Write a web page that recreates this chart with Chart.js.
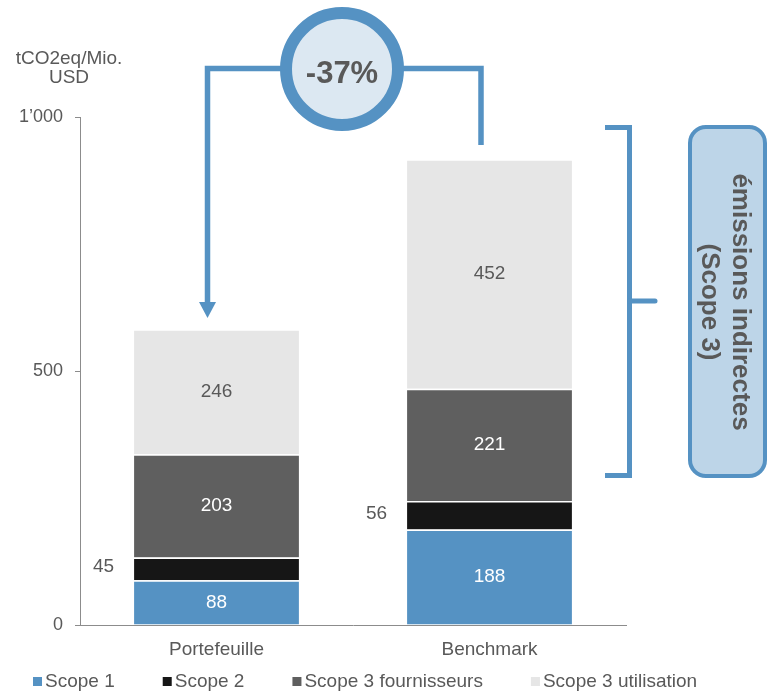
<!DOCTYPE html>
<html>
<head>
<meta charset="utf-8">
<script src="https://cdn.jsdelivr.net/npm/chart.js@4.4.1/dist/chart.umd.min.js"></script>
<style>
  body { margin: 0; background: #fff; }
  #wrap { width: 771px; height: 692px; position: relative; }
</style>
</head>
<body>
<div id="wrap"><canvas id="emissionsChart"></canvas></div>
<script>
const categories = ['Portefeuille', 'Benchmark'];
const seriesNames = ['Scope 1', 'Scope 2', 'Scope 3 fournisseurs', 'Scope 3 utilisation'];
const scope1 = [88, 188];
const scope2 = [45, 56];
const scope3Fournisseurs = [203, 221];
const scope3Utilisation = [246, 452];
const yTicks = [0, 500, 1000];
const yTickLabels = ['0', '500', '1’000'];
const reductionLabel = '-37%';
const yTitle = ['tCO2eq/Mio.', 'USD'];
const scope3Note = ['émissions indirectes', '(Scope 3)'];

const seriesColors = ['#5592c3', '#161616', '#5f5f5f', '#e6e6e6'];
const labelColors = ['#ffffff', '#595959', '#ffffff', '#595959'];
const FONT = "'Liberation Sans', Arial, sans-serif";
const GREY = '#595959';
const BLUE = '#5592c3';

function roundedRect(ctx, x, y, w, h, r) {
  ctx.beginPath();
  ctx.moveTo(x + r, y);
  ctx.lineTo(x + w - r, y);
  ctx.arcTo(x + w, y, x + w, y + r, r);
  ctx.lineTo(x + w, y + h - r);
  ctx.arcTo(x + w, y + h, x + w - r, y + h, r);
  ctx.lineTo(x + r, y + h);
  ctx.arcTo(x, y + h, x, y + h - r, r);
  ctx.lineTo(x, y + r);
  ctx.arcTo(x, y, x + r, y, r);
  ctx.closePath();
}

// valeurs, légende et annotations dessinées après le graphique
const annotations = {
  id: 'annotations',
  afterDraw(chart) {
    const ctx = chart.ctx;
    ctx.save();

    // étiquettes des segments
    ctx.font = '19px ' + FONT;
    ctx.textBaseline = 'middle';
    chart.data.datasets.forEach((ds, i) => {
      const meta = chart.getDatasetMeta(i);
      meta.data.forEach((bar, j) => {
        const yMid = (bar.y + bar.base) / 2;
        ctx.fillStyle = labelColors[i];
        if (i === 1) {
          ctx.textAlign = 'right';
          ctx.fillText(String(ds.data[j]), bar.x - bar.width / 2 - 20, yMid - 2);
        } else {
          ctx.textAlign = 'center';
          ctx.fillText(String(ds.data[j]), bar.x, yMid);
        }
      });
    });

    // titre de l'axe y
    ctx.fillStyle = GREY;
    ctx.font = '19px ' + FONT;
    ctx.textAlign = 'center';
    ctx.fillText(yTitle[0], 69, 59);
    ctx.fillText(yTitle[1], 69, 78);

    // légende
    ctx.font = '19px ' + FONT;
    ctx.textAlign = 'left';
    let lx = 33;
    chart.data.datasets.forEach((ds, i) => {
      ctx.fillStyle = ds.backgroundColor;
      ctx.fillRect(lx, 677, 9, 9);
      ctx.fillStyle = GREY;
      ctx.fillText(ds.label, lx + 12, 682);
      lx += 12 + ctx.measureText(ds.label).width + 48;
    });

    // flèches autour du cercle
    ctx.strokeStyle = BLUE;
    ctx.fillStyle = BLUE;
    ctx.lineWidth = 5.5;
    ctx.lineCap = 'butt';
    ctx.lineJoin = 'miter';
    ctx.beginPath();
    ctx.moveTo(207.5, 304);
    ctx.lineTo(207.5, 68.5);
    ctx.lineTo(290, 68.5);
    ctx.moveTo(395, 68.5);
    ctx.lineTo(481, 68.5);
    ctx.lineTo(481, 145);
    ctx.stroke();
    ctx.beginPath();
    ctx.moveTo(199, 302);
    ctx.lineTo(216, 302);
    ctx.lineTo(207.5, 318);
    ctx.closePath();
    ctx.fill();

    // cercle -37%
    ctx.beginPath();
    ctx.arc(342, 69, 56, 0, Math.PI * 2);
    ctx.fillStyle = '#dce8f2';
    ctx.fill();
    ctx.lineWidth = 12;
    ctx.stroke();
    ctx.fillStyle = GREY;
    ctx.font = 'bold 31px ' + FONT;
    ctx.textAlign = 'center';
    ctx.textBaseline = 'middle';
    ctx.fillText(reductionLabel, 342, 74);

    // accolade Scope 3
    ctx.lineWidth = 5;
    ctx.beginPath();
    ctx.moveTo(605, 127.5);
    ctx.lineTo(629.5, 127.5);
    ctx.lineTo(629.5, 475.5);
    ctx.lineTo(605, 475.5);
    ctx.stroke();
    ctx.lineCap = 'round';
    ctx.beginPath();
    ctx.moveTo(629.5, 301);
    ctx.lineTo(655, 301);
    ctx.stroke();

    // encadré texte vertical
    roundedRect(ctx, 690, 127, 75, 349, 16);
    ctx.fillStyle = '#bdd5e8';
    ctx.fill();
    ctx.lineWidth = 4;
    ctx.stroke();
    ctx.translate(725, 302);
    ctx.rotate(Math.PI / 2);
    ctx.fillStyle = GREY;
    ctx.font = 'bold 26px ' + FONT;
    ctx.textAlign = 'center';
    ctx.textBaseline = 'alphabetic';
    ctx.fillText(scope3Note[0], 0, -8);
    ctx.fillText(scope3Note[1], 0, 23);

    ctx.restore();
  }
};

const seriesValues = [scope1, scope2, scope3Fournisseurs, scope3Utilisation];

const chartData = {
  labels: categories,
  datasets: seriesNames.map((name, i) => ({
    label: name,
    data: seriesValues[i],
    backgroundColor: seriesColors[i],
    borderColor: '#ffffff',
    borderWidth: { top: 1.5, left: 0, right: 0, bottom: 0 },
    borderSkipped: false,
    categoryPercentage: 1,
    barPercentage: 0.604
  }))
};

const config = {
  type: 'bar',
  data: chartData,
  options: {
    responsive: true,
    maintainAspectRatio: false,
    animation: false,
    layout: {
      padding: { top: 117, right: 145, bottom: 0, left: 0 }
    },
    plugins: {
      legend: { display: false },
      tooltip: { enabled: false }
    },
    scales: {
      x: {
        stacked: true,
        grid: { display: false },
        border: { display: true, color: '#8c8c8c', width: 1 },
        ticks: {
          color: GREY,
          font: { family: FONT, size: 19 },
          padding: 5
        },
        afterFit(scale) { scale.height = 67; }
      },
      y: {
        stacked: true,
        min: 0,
        max: 1000,
        afterBuildTicks(scale) {
          scale.ticks = yTicks.map(v => ({ value: v }));
        },
        grid: {
          display: true,
          drawOnChartArea: false,
          drawTicks: true,
          tickLength: 5,
          color: '#8c8c8c'
        },
        border: { display: true, color: '#8c8c8c', width: 1 },
        ticks: {
          color: GREY,
          font: { family: FONT, size: 18 },
          padding: 12,
          callback: function(value) {
            const k = yTicks.indexOf(value);
            return k >= 0 ? yTickLabels[k] : '';
          }
        },
        afterFit(scale) { scale.width = 80; }
      }
    }
  },
  plugins: [annotations]
};

const ctx = document.getElementById('emissionsChart').getContext('2d');
window.emissionsChart = new Chart(ctx, config);
</script>
</body>
</html>
